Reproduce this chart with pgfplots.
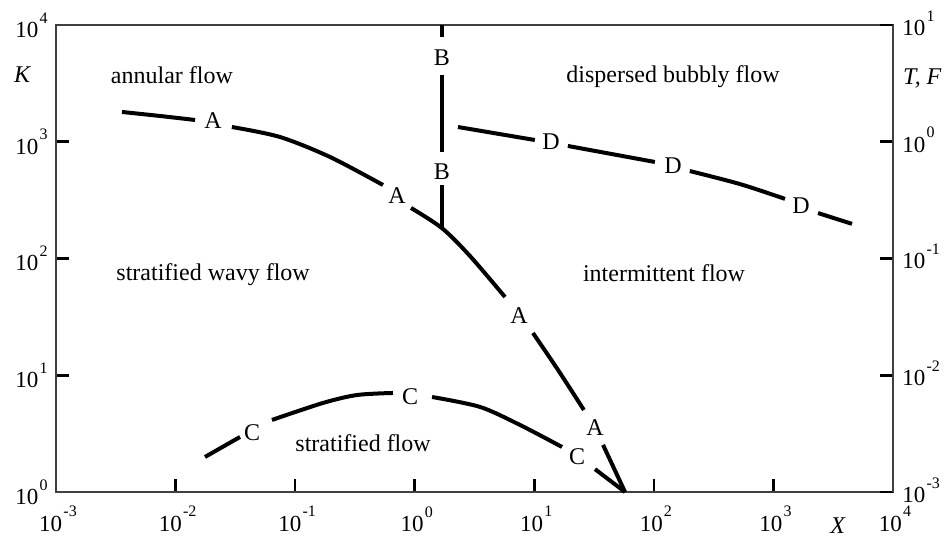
\documentclass[border=0pt]{standalone}
\usepackage{fontspec}
\setmainfont{Liberation Serif}
\usepackage{pgfplots}
\pgfplotsset{compat=1.18}

% power-of-ten tick label with a raised exponent
\newcommand{\pten}[1]{10\kern0.6pt\raisebox{0.62em}{\fontsize{8}{9}\selectfont #1}}

\begin{document}
\begin{tikzpicture}
\pgfplotsset{
  every axis/.append style={
    scale only axis, width=418.5pt, height=233.5pt,
    xmode=log, ymode=log, log basis x=10, log basis y=10,
    xmin=1e-3, xmax=1e4,
    xminorticks=false, yminorticks=false,
    tick align=inside,
    major tick length=6.5pt,
    every tick/.style={black, line width=1.3pt},
    axis line style={black!75, line width=0.9pt},
    tick label style={font=\fontsize{11.5}{13}\selectfont, inner sep=0pt},
  },
  boundary/.style={black, line width=2pt, smooth, no markers},
}
\tikzset{
  lbl/.style={font=\fontsize{12}{14}\selectfont, inner sep=0pt},
  region/.style={font=\fontsize{12}{14}\selectfont, inner sep=0pt},
  axname/.style={font=\fontsize{12}{14}\selectfont\itshape, inner sep=0pt},
}
\begin{axis}[
  ymin=1, ymax=1e4,
  xtick={1e-3,1e-2,1e-1,1,1e1,1e2,1e3,1e4},
  xticklabels={\pten{-3},\pten{-2},\pten{-1},\pten{0},\pten{1},\pten{2},\pten{3},\pten{4}},
  ytick={1,10,100,1000,10000},
  yticklabels={\pten{0},\pten{1},\pten{2},\pten{3},\pten{4}},
  xtick pos=bottom, ytick pos=left,
  clip=false,
  xticklabel style={anchor=north, yshift=-7pt, xshift=1pt},
  yticklabel style={anchor=east, xshift=-4pt},
]
% curve A: stratified / annular / intermittent boundary
\addplot[boundary] coordinates {(0.00356,1799) (0.00741,1662) (0.01456,1536)};
\addplot[boundary] coordinates {(0.0296,1337) (0.0747,1098) (0.196,740) (0.543,426)};
\addplot[boundary] coordinates {(0.931,271) (1.69,182) (2.90,105) (5.69,46.8)};
\addplot[boundary] coordinates {(9.75,23.0) (15.8,11.1) (26.0,5.04)};
\addplot[boundary] coordinates {(37.6,2.53) (57.4,1)};
% curve B: vertical line at X = 1.69
\addplot[boundary] coordinates {(1.69,10000) (1.69,7890)};
\addplot[boundary] coordinates {(1.69,3733) (1.69,817)};
\addplot[boundary] coordinates {(1.69,426) (1.69,182)};
% curve C: stratified smooth / stratified wavy boundary
\addplot[boundary] coordinates {(0.01762,1.995) (0.0346,2.96)};
\addplot[boundary] coordinates {(0.0640,4.14) (0.171,5.79) (0.329,6.77) (0.658,7.05)};
\addplot[boundary] coordinates {(1.397,6.51) (3.52,5.35) (7.60,3.75) (17.06,2.43)};
\addplot[boundary] coordinates {(32.2,1.57) (57.4,1)};
% curve D: intermittent / dispersed bubbly boundary
\addplot[boundary] coordinates {(2.30,1337) (10.1,1035)};
\addplot[boundary] coordinates {(19.1,920) (102,671)};
\addplot[boundary] coordinates {(200,561) (525,434) (1250,324)};
\addplot[boundary] coordinates {(2361,245) (4540,198)};

% curve letters
\node[lbl] at (axis cs:0.02056,1507) {A};
\node[lbl] at (axis cs:0.711,343) {A};
\node[lbl] at (axis cs:7.45,32.2) {A};
\node[lbl] at (axis cs:32.2,3.53) {A};
\node[lbl] at (axis cs:1.69,5213) {B};
\node[lbl] at (axis cs:1.69,551) {B};
\node[lbl] at (axis cs:0.0436,3.20) {C};
\node[lbl] at (axis cs:0.914,6.51) {C};
\node[lbl] at (axis cs:22.8,1.995) {C};
\node[lbl] at (axis cs:13.8,995) {D};
\node[lbl] at (axis cs:144.6,620) {D};
\node[lbl] at (axis cs:1702,282) {D};

% flow regimes
\node[region] at (axis cs:0.00933,3733) {annular flow};
\node[region] at (axis cs:144.6,3589) {dispersed bubbly flow};
\node[region] at (axis cs:0.0206,72.2) {stratified wavy flow};
\node[region] at (axis cs:121.6,75.1) {intermittent flow};
\node[region] at (axis cs:0.370,2.63) {stratified flow};

% axis names
\node[axname] at (axis description cs:-0.0406,0.893) {K};
\node[axname] at (axis description cs:1.035,0.886) {T, F};
\node[axname] at (axis description cs:0.934,-0.071) {X};

\coordinate (bbsw) at (rel axis cs:0,0);
\coordinate (bbne) at (rel axis cs:1,1);
\end{axis}
\begin{axis}[
  ymin=1e-3, ymax=10,
  axis x line=none, axis y line*=right,
  ytick={1e-3,1e-2,1e-1,1,10},
  yticklabels={\pten{-3},\pten{-2},\pten{-1},\pten{0},\pten{1}},
  yticklabel style={anchor=west, xshift=4.5pt, yshift=1pt},
]
\end{axis}
\pgfresetboundingbox
\path[use as bounding box] ([shift={(-28pt,-25pt)}]bbsw) rectangle ([shift={(26.5pt,12.5pt)}]bbne);
\end{tikzpicture}
\end{document}
